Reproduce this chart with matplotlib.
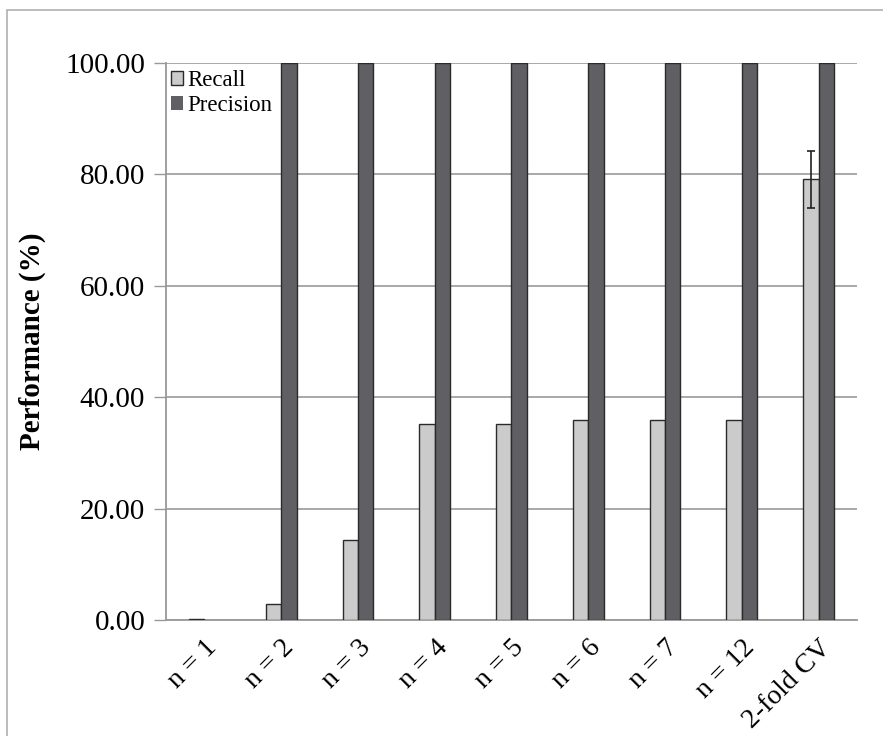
import numpy as np
import matplotlib.pyplot as plt
from matplotlib.patches import Rectangle

# Valores por configuração
categorias = ["n = 1", "n = 2", "n = 3", "n = 4", "n = 5", "n = 6", "n = 7", "n = 12", "2-fold CV"]
recall = [0.1, 2.8, 14.4, 35.1, 35.1, 35.9, 35.9, 35.9, 79.1]
precision = [0.0, 100.0, 100.0, 100.0, 100.0, 100.0, 100.0, 100.0, 100.0]
recall_err = [0, 0, 0, 0, 0, 0, 0, 0, 5.1]
yticks = [0, 20, 40, 60, 80, 100]

plt.rcParams['font.family'] = ['Liberation Serif', 'DejaVu Serif']

fig = plt.figure(figsize=(8.83, 7.36), dpi=100)
ax = fig.add_axes([166 / 883, 1 - 620 / 736, (857 - 166) / 883, (620 - 63) / 736])

# moldura externa
fig.patches.append(Rectangle((7 / 883, -0.1), 1.2, 1 - 10 / 736 + 0.1, transform=fig.transFigure,
                             fill=False, edgecolor="#b0b0b0", linewidth=1.2, zorder=0))

x = np.arange(len(categorias))
w = 0.2
# barras de altura zero não desenham contorno
lw_prec = [1.0 if v > 0 else 0 for v in precision]
ax.bar(x - w / 2, recall, w, color="#cbcbcb", edgecolor="#2a2a2a", linewidth=1.0,
       label="Recall", zorder=3)
ax.bar(x + w / 2, precision, w, color="#606064", edgecolor="#2a2a2a", linewidth=lw_prec,
       label="Precision", zorder=3)
err = [e if e > 0 else np.nan for e in recall_err]
ax.errorbar(x - w / 2, recall, yerr=err, fmt="none", ecolor="#222222", elinewidth=1.2,
            capsize=3, capthick=1.2, zorder=4)

ax.set_xlim(-0.5, len(categorias) - 0.5)
ax.set_ylim(0, 100)
ax.set_yticks(yticks)
ax.set_yticklabels([f"{v:.2f}" for v in yticks], fontsize=21)
ax.set_xticks(x)
ax.set_xticklabels(categorias, fontsize=20, rotation=45, ha="right", rotation_mode="anchor")
ax.tick_params(axis="x", length=0, pad=11)
ax.tick_params(axis="y", length=9, width=1, color="#999999", pad=6)
ax.set_ylabel("Performance (%)", fontsize=21, fontweight="bold", labelpad=14)

ax.yaxis.grid(True, color="#9a9a9a", linewidth=1.2, zorder=0)
ax.set_axisbelow(True)
for s in ["top", "right"]:
    ax.spines[s].set_visible(False)
for s in ["left", "bottom"]:
    ax.spines[s].set_color("#999999")
    ax.spines[s].set_linewidth(1.3)

leg = ax.legend(loc="upper left", fontsize=16.5, frameon=False, handlelength=0.55,
                handleheight=0.55, handletextpad=0.2, borderaxespad=0.0, borderpad=0.2,
                labelspacing=0.15, bbox_to_anchor=(0.0, 0.995))

fig.savefig("out.png", dpi=100)
